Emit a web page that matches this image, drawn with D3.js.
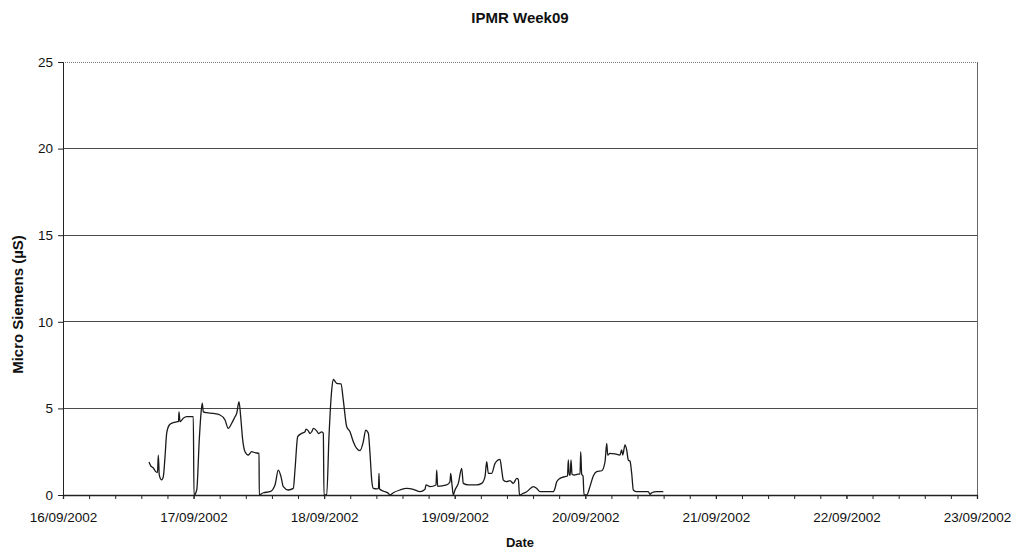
<!DOCTYPE html>
<html>
<head>
<meta charset="utf-8">
<script src="https://cdn.jsdelivr.net/npm/d3@7"></script>
<style>
  html, body { margin: 0; padding: 0; background: #fff; }
  svg { display: block; font-family: "Liberation Sans", Arial, sans-serif; }
</style>
</head>
<body>
<svg id="chart" width="1014" height="551"></svg>
<script>
// Conductivity log, week 09 — hours elapsed since 16/09/2002 00:00
const startDate = "16/09/2002";
const endDate = "23/09/2002";
const elapsedHours = [
  15.8, 16.1, 16.6, 17.04, 17.37, 17.52, 17.7, 18.14, 18.44, 18.75,
  19.06, 19.54, 20.27, 21.01, 21.23, 21.32, 21.51, 22.11, 22.74, 23.95,
  24.08, 24.58, 25.05, 25.37, 25.6, 25.79, 26.41, 27.63, 28.86, 29.78,
  30.38, 31.01, 31.62, 31.93, 32.35, 32.66, 33.03, 33.45, 34.06, 34.68,
  35.29, 36.03, 36.08, 36.82, 38.05, 38.97, 39.57, 40.07, 40.49, 41.41,
  42.33, 42.64, 43.14, 43.87, 44.48, 44.67, 45.09, 45.4, 45.71, 46.04,
  46.63, 46.96, 47.55, 47.85, 47.97, 48.47, 48.89, 49.39, 49.68, 50.31,
  51.1, 51.52, 52.15, 52.75, 53.36, 53.98, 54.59, 55.2, 55.64, 56.12,
  56.43, 56.74, 57.04, 57.72, 57.99, 58.08, 58.18, 59.19, 59.79, 60.11,
  60.71, 61.94, 63.18, 64.39, 65.62, 66.54, 66.72, 67.46, 68.56, 68.69,
  68.87, 70.53, 71.13, 71.26, 71.5, 71.74, 72.05, 72.66, 73.28, 73.58,
  74.5, 76.04, 76.96, 77.57, 77.88, 78.18, 78.8, 79.41, 80.33, 80.64,
  80.93, 81.56, 82.16, 82.77, 83.4, 83.69, 83.91, 84.61, 85.23, 86.45,
  87.07, 87.68, 90.12, 90.43, 90.75, 91.35, 92.27, 92.73, 92.88, 93.05,
  93.23, 93.38, 93.56, 93.98, 94.66, 95.03, 95.16, 95.34, 95.58, 95.77,
  96.26, 96.87, 97.47, 98.1, 99.02, 99.63, 99.94, 100.12, 100.54, 101.46,
  102.38, 102.69, 102.88, 103.3, 103.61, 103.91, 104.22, 104.53, 104.83, 105.45,
  107.58, 107.9, 108.21, 109.13, 110.34
];
const microSiemens = [
  1.9, 1.7, 1.56, 1.35, 1.3, 2.3, 1.15, 0.87, 1.06, 2.2,
  3.57, 4.04, 4.18, 4.23, 4.25, 4.8, 4.23, 4.43, 4.52, 4.52,
  0.0, 0.29, 3.2, 4.73, 5.3, 4.8, 4.75, 4.71, 4.62, 4.33,
  3.85, 4.14, 4.52, 4.71, 5.39, 4.52, 3.18, 2.5, 2.31, 2.5,
  2.44, 2.4, 0.0, 0.13, 0.19, 0.58, 1.44, 1.06, 0.48, 0.29,
  0.38, 1.44, 3.37, 3.56, 3.65, 3.8, 3.7, 3.55, 3.65, 3.85,
  3.7, 3.55, 3.65, 3.56, 0.0, 0.0, 3.37, 6.06, 6.68, 6.45,
  6.41, 5.48, 3.94, 3.65, 3.08, 2.69, 2.56, 3.08, 3.75, 3.56,
  2.4, 0.87, 0.38, 0.35, 0.4, 1.25, 0.35, 0.19, 0.1, 0.0,
  0.13, 0.29, 0.38, 0.33, 0.19, 0.33, 0.58, 0.48, 0.58, 1.44,
  0.5, 0.58, 0.77, 1.25, 0.6, 0.0, 0.29, 0.67, 1.54, 0.67,
  0.58, 0.58, 0.67, 1.06, 1.92, 1.25, 1.25, 1.83, 2.06, 1.44,
  0.87, 0.77, 0.83, 0.67, 0.96, 0.9, 0.0, 0.1, 0.19, 0.48,
  0.38, 0.19, 0.19, 0.38, 0.77, 0.96, 1.06, 1.1, 2.02, 1.15,
  1.15, 2.02, 1.2, 1.15, 1.2, 1.2, 2.5, 1.2, 1.1, 0.0,
  0.0, 0.5, 1.1, 1.35, 1.4, 1.92, 2.98, 2.31, 2.4, 2.37,
  2.31, 2.6, 2.31, 2.89, 2.6, 2.02, 1.95, 1.25, 0.29, 0.19,
  0.19, 0.04, 0.13, 0.19, 0.19
];
const yTicks = [0, 5, 10, 15, 20, 25];
const titleText = "IPMR Week09";
const xTitle = "Date";
const yTitle = "Micro Siemens (\u00b5S)";

const svg = d3.select("#chart");
const W = 1014, H = 551;
const margin = { top: 62, right: 37, bottom: 56, left: 63 };
const parseDay = d3.timeParse("%d/%m/%Y");
const t0 = parseDay(startDate), t1 = parseDay(endDate);

const x = d3.scaleTime().domain([t0, t1]).range([margin.left, W - margin.right]);
const y = d3.scaleLinear().domain([0, 25]).range([H - margin.bottom, margin.top]);

const points = elapsedHours.map((h, i) => ({
  t: new Date(t0.getTime() + h * 3600e3),
  v: microSiemens[i]
}));

// horizontal gridlines
svg.append("g")
  .selectAll("line")
  .data(yTicks.filter(d => d > 0 && d < 25))
  .join("line")
  .attr("x1", x(t0)).attr("x2", x(t1))
  .attr("y1", d => y(d)).attr("y2", d => y(d))
  .attr("stroke", "#4a4a4a").attr("stroke-width", 1)
  .attr("shape-rendering", "crispEdges");

// plot-area border: dotted top, solid right
svg.append("line")
  .attr("x1", x(t0)).attr("x2", x(t1))
  .attr("y1", y(25)).attr("y2", y(25))
  .attr("stroke", "#777").attr("stroke-dasharray", "1,1")
  .attr("shape-rendering", "crispEdges");
svg.append("line")
  .attr("x1", x(t1)).attr("x2", x(t1))
  .attr("y1", y(25)).attr("y2", y(0))
  .attr("stroke", "#666")
  .attr("shape-rendering", "crispEdges");

// y axis
const yAxis = d3.axisLeft(y).tickValues(yTicks).tickSize(5).tickPadding(5);
const gy = svg.append("g")
  .attr("transform", `translate(${x(t0)},0)`)
  .call(yAxis);
gy.select(".domain").attr("stroke", "#222");
gy.selectAll(".tick line").attr("stroke", "#222");
gy.selectAll("text").attr("font-size", 13.5).attr("fill", "#111");

// x axis: minor ticks every 0.2 day, labels on each day
const minorTicks = d3.range(0, 7.0001, 0.2).map(d => new Date(t0.getTime() + d * 86400e3));
const gxMinor = svg.append("g")
  .attr("transform", `translate(0,${y(0)})`)
  .call(d3.axisBottom(x).tickValues(minorTicks).tickSize(4).tickFormat(""));
gxMinor.select(".domain").attr("stroke", "#222").attr("stroke-width", 1.3);
gxMinor.selectAll(".tick line").attr("stroke", "#222");

const gx = svg.append("g")
  .attr("transform", `translate(0,${y(0)})`)
  .call(d3.axisBottom(x).ticks(d3.timeDay.every(1)).tickSize(4).tickPadding(13)
    .tickFormat(d3.timeFormat("%d/%m/%Y")));
gx.select(".domain").remove();
gx.selectAll(".tick line").attr("stroke", "#222");
gx.selectAll("text").attr("font-size", 13.5).attr("fill", "#111");

// data line
svg.append("path")
  .datum(points)
  .attr("fill", "none")
  .attr("stroke", "#1a1a1a")
  .attr("stroke-width", 1.3)
  .attr("stroke-linejoin", "round")
  .attr("d", d3.line().curve(d3.curveMonotoneX).x(d => x(d.t)).y(d => y(d.v)));

// titles
svg.append("text")
  .attr("x", (x(t0) + x(t1)) / 2).attr("y", 23)
  .attr("text-anchor", "middle")
  .attr("font-size", 15).attr("font-weight", "bold")
  .attr("fill", "#111")
  .text(titleText);

svg.append("text")
  .attr("x", (x(t0) + x(t1)) / 2).attr("y", 547)
  .attr("text-anchor", "middle")
  .attr("font-size", 13).attr("font-weight", "bold")
  .attr("fill", "#111")
  .text(xTitle);

svg.append("text")
  .attr("transform", `translate(23,${(y(0) + y(25)) / 2 + 26}) rotate(-90)`)
  .attr("text-anchor", "middle")
  .attr("font-size", 15).attr("font-weight", "bold")
  .attr("fill", "#111")
  .text(yTitle);
</script>
</body>
</html>
